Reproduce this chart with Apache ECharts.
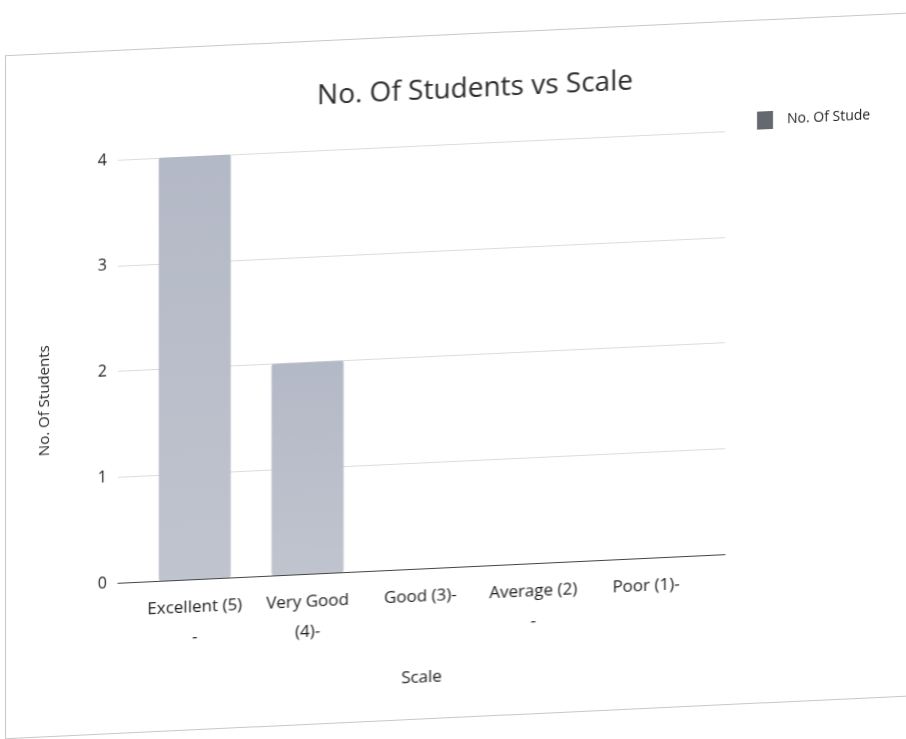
<!DOCTYPE html>
<html>
<head>
<meta charset="utf-8">
<script src="https://cdn.jsdelivr.net/npm/echarts@6/dist/echarts.min.js"></script>
<style>
html,body{margin:0;padding:0;background:#ffffff;overflow:hidden;}
#wrap{position:absolute;left:0;top:0;width:906px;height:739px;transform:skewY(-2.7deg);transform-origin:453px 370px;}
#paper{position:absolute;left:5px;top:34px;width:1000px;height:682px;border:1px solid #c8c8c8;border-right:none;background:#ffffff;}
#chart{position:absolute;left:0;top:0;width:906px;height:739px;}
</style>
</head>
<body>
<div id="wrap"><div id="paper"></div><div id="chart"></div></div>
<script>
const categories = ['Excellent (5)\n-', 'Very Good\n(4)-', 'Good (3)-', 'Average (2)\n-', 'Poor (1)-'];
const students = [4, 2, 0, 0, 0];
const seriesName = 'No. Of Students';
const yTicks = [0, 1, 2, 3, 4];

const positions = categories.map((c, i) => i);
const chart = echarts.init(document.getElementById('chart'), null, {renderer: 'canvas'});
const font = 'Open Sans';
chart.setOption({
  backgroundColor: 'transparent',
  title: {
    text: 'No. Of Students vs Scale',
    left: 470, top: 71, textAlign: 'center',
    textStyle: {fontFamily: font, fontSize: 28, fontWeight: 'normal', color: '#2a2a2a'}
  },
  legend: {
    data: [{name: seriesName, icon: 'rect'}],
    left: 752, top: 121,
    itemWidth: 16, itemHeight: 18, itemGap: 14,
    textStyle: {fontFamily: font, fontSize: 14, color: '#1e1e1e', width: 86, overflow: 'truncate', ellipsis: '', padding: [0, 0, 0, 9]},
    itemStyle: {color: '#66686f'}
  },
  grid: {left: 118, right: 181, top: 144, bottom: 172},
  xAxis: {
    type: 'value', min: -0.68, max: 4.7,
    name: 'Scale', nameLocation: 'middle', nameGap: 101,
    nameTextStyle: {fontFamily: font, fontSize: 17, color: '#1e1e1e'},
    axisLine: {show: true, onZero: false, lineStyle: {color: '#444', width: 1.2}},
    axisTick: {show: false},
    splitLine: {show: false},
    axisLabel: {
      customValues: positions,
      formatter: (v) => categories[Math.round(v)],
      fontFamily: font, fontSize: 17, color: '#1e1e1e', margin: 13, lineHeight: 30
    }
  },
  yAxis: {
    type: 'value', min: yTicks[0], max: yTicks[yTicks.length - 1], interval: 1,
    name: 'No. Of Students', nameLocation: 'middle', nameGap: 66,
    nameTextStyle: {fontFamily: font, fontSize: 15, color: '#1e1e1e', padding: [0, 52, 0, 0]},
    axisLine: {show: false}, axisTick: {show: false},
    axisLabel: {fontFamily: font, fontSize: 16, color: '#1e1e1e', margin: 11},
    splitLine: {lineStyle: {color: '#dcdcdc', width: 1}}
  },
  series: [{
    name: seriesName, type: 'bar',
    data: students.map((v, i) => [positions[i], v]),
    barWidth: 72,
    itemStyle: {
      borderRadius: 2,
      color: new echarts.graphic.LinearGradient(0, 0, 0, 1, [
        {offset: 0, color: '#b4b9c7'},
        {offset: 1, color: '#c0c4ce'}
      ])
    }
  }]
});
</script>
</body>
</html>
